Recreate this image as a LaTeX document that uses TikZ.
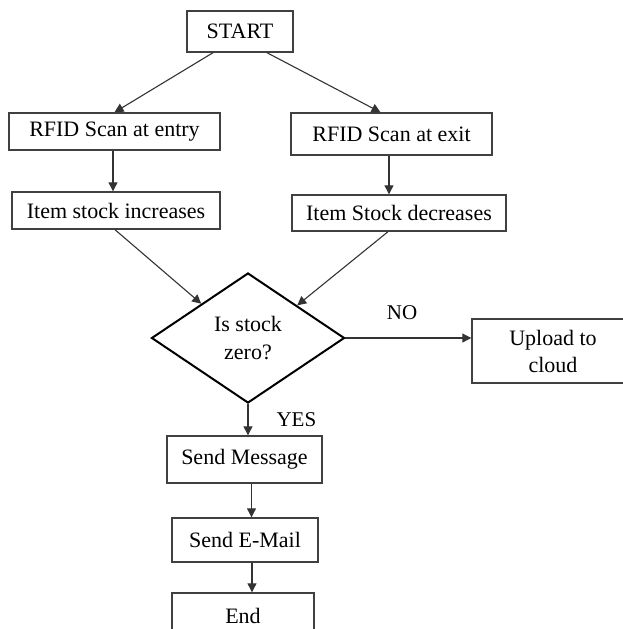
\documentclass[tikz,border=0pt]{standalone}
\usepackage{fontspec}
\setmainfont{Liberation Serif}
\usetikzlibrary{shapes.geometric,arrows.meta,calc}
\tikzset{
  box/.style={draw=black!75, line width=0.7pt, rectangle, inner sep=0pt, align=center,
    font=\fontsize{11}{13.5}\selectfont},
  decision/.style={draw=black, line width=1pt, diamond, inner sep=0pt, aspect=1.5, align=center,
    minimum width=96.5pt, minimum height=65pt, font=\fontsize{11}{14}\selectfont},
  arr/.style={draw=black!80, line width=0.55pt, -{Triangle[length=4.5pt,width=4.5pt]}},
  lbl/.style={font=\fontsize{10.5}{12}\selectfont, inner sep=0pt}
}
\begin{document}
\begin{tikzpicture}[x=0.5pt,y=-0.5pt]
\useasboundingbox (0,0) rectangle (623,629);
\clip (0,0) rectangle (623,629);
\node[box, minimum width=53pt, minimum height=20.5pt] (start) at (240,31.5) {START};
\node[box, minimum width=105.5pt, minimum height=18.5pt] (entry) at (114.5,131.5) {RFID Scan at entry};
\node[box, minimum width=100.5pt, minimum height=21pt] (exit) at (391.5,134) {RFID Scan at exit};
\node[box, minimum width=104pt, minimum height=18.5pt] (inc) at (116,210.5) {Item stock increases};
\node[box, minimum width=107pt, minimum height=18pt] (dec) at (399,213) {Item Stock decreases};
\node[decision] (d) at (248,338) {Is stock\\zero?};
\node[box, minimum width=81pt, minimum height=32pt] (up) at (553,351) {Upload to\\cloud};
\node[box, minimum width=77.5pt, minimum height=23.5pt] (msg) at (244.5,459.5) {Send Message};
\node[box, minimum width=73pt, minimum height=22pt] (mail) at (245,540) {Send E-Mail};
\node[box, minimum width=71pt, minimum height=23pt] (end) at (243,616) {End};

\draw[arr] ([xshift=-13.5pt]start.south) -- ([xshift=0pt]entry.north);
\draw[arr] ([xshift=13.5pt]start.south) -- ([xshift=-5.5pt]exit.north);
\draw[arr] ([xshift=-0.75pt]entry.south) -- ([xshift=-0.75pt]entry.south |- inc.north);
\draw[arr] ([xshift=-1.25pt]exit.south) -- ([xshift=-1.25pt]exit.south |- dec.north);
\draw[arr] ([xshift=-0.5pt]inc.south) -- ($(d.west)!0.52!(d.north)$);
\draw[arr] ([xshift=-5.5pt]dec.south) -- ($(d.north)!0.505!(d.east)$);
\draw[arr] (d.east) -- (d.east -| up.west) node[lbl, pos=0.45, above=9pt] {NO};
\draw[arr] (d.south) -- (d.south |- msg.north) node[lbl, pos=0.5, right=14pt] {YES};
\draw[arr] ([xshift=3.5pt]msg.south) -- ([xshift=3.5pt]msg.south |- mail.north);
\draw[arr] ([xshift=3.5pt]mail.south) -- ([xshift=3.5pt]mail.south |- end.north);
\end{tikzpicture}
\end{document}
